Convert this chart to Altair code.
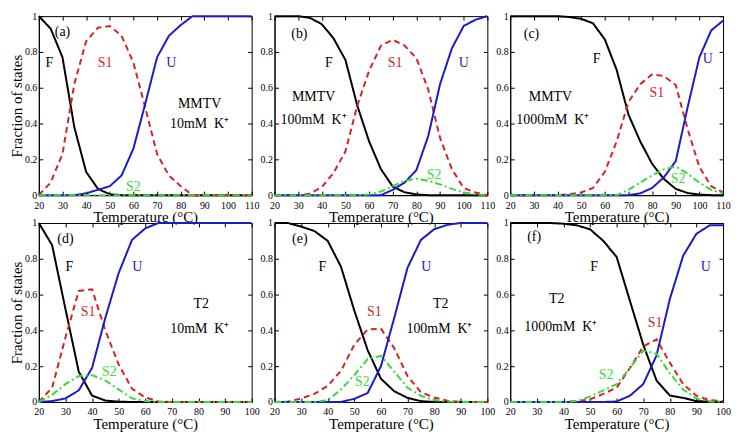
## Import libraries
import pandas as pd
import altair as alt

## Temperature grids (deg C), one point every 5 degrees
temp_top = [20, 25, 30, 35, 40, 45, 50, 55, 60, 65, 70, 75, 80, 85, 90, 95, 100, 105, 110]
temp_bot = [20, 25, 30, 35, 40, 45, 50, 55, 60, 65, 70, 75, 80, 85, 90, 95, 100]

## Fractions of states
# (a) MMTV, 10mM K+
a_F = [1.00, 0.93, 0.77, 0.38, 0.13, 0.035, 0.005, 0, 0, 0, 0, 0, 0, 0, 0, 0, 0, 0, 0]
a_S1 = [0.00, 0.07, 0.23, 0.62, 0.86, 0.935, 0.945, 0.89, 0.74, 0.49, 0.23, 0.11, 0.05, 0.0, 0, 0, 0, 0, 0]
a_U = [0, 0, 0, 0, 0.01, 0.03, 0.05, 0.11, 0.26, 0.51, 0.77, 0.89, 0.95, 1.0, 1.0, 1.0, 1.0, 1.0, 1.0]
a_S2 = [0, 0, 0, 0, 0, 0, 0, 0, 0, 0, 0, 0, 0, 0, 0, 0, 0, 0, 0]

# (b) MMTV, 100mM K+
b_F = [1.00, 1.00, 1.00, 0.99, 0.955, 0.875, 0.755, 0.50, 0.30, 0.145, 0.048, 0.016, 0.004, 0, 0, 0, 0, 0, 0]
b_S1 = [0, 0, 0, 0.008, 0.045, 0.125, 0.245, 0.50, 0.695, 0.835, 0.868, 0.835, 0.765, 0.59, 0.32, 0.145, 0.04, 0.015, 0.0]
b_U = [0, 0, 0, 0, 0, 0, 0, 0, 0, 0, 0.03, 0.07, 0.14, 0.33, 0.62, 0.82, 0.945, 0.98, 1.0]
b_S2 = [0, 0, 0, 0, 0, 0, 0, 0, 0.005, 0.02, 0.05, 0.08, 0.092, 0.08, 0.06, 0.035, 0.015, 0.005, 0.0]

# (c) MMTV, 1000mM K+
c_F = [1.0, 1.0, 1.0, 1.0, 1.0, 0.995, 0.985, 0.96, 0.87, 0.70, 0.45, 0.30, 0.175, 0.09, 0.035, 0.012, 0.003, 0, 0]
c_S1 = [0, 0, 0, 0, 0, 0.005, 0.015, 0.04, 0.13, 0.30, 0.52, 0.62, 0.675, 0.665, 0.615, 0.37, 0.157, 0.05, 0.015]
c_U = [0, 0, 0, 0, 0, 0, 0, 0, 0, 0, 0, 0.01, 0.04, 0.10, 0.19, 0.49, 0.77, 0.92, 0.975]
c_S2 = [0, 0, 0, 0, 0, 0, 0, 0, 0, 0, 0.03, 0.07, 0.11, 0.145, 0.16, 0.12, 0.07, 0.03, 0.01]

# (d) T2, 10mM K+
d_F = [1.0, 0.876, 0.52, 0.17, 0.036, 0.008, 0.002, 0, 0, 0, 0, 0, 0, 0, 0, 0, 0]
d_S1 = [0.0, 0.08, 0.36, 0.62, 0.63, 0.40, 0.21, 0.075, 0.025, 0.003, 0, 0, 0, 0, 0, 0, 0]
d_U = [0.0, 0.005, 0.02, 0.065, 0.19, 0.47, 0.72, 0.905, 0.97, 1.0, 1.0, 1.0, 1.0, 1.0, 1.0, 1.0, 1.0]
d_S2 = [0.0, 0.04, 0.10, 0.145, 0.15, 0.12, 0.07, 0.02, 0.005, 0, 0, 0, 0, 0, 0, 0, 0]

# (e) T2, 100mM K+
e_F = [1.0, 1.0, 0.98, 0.955, 0.90, 0.755, 0.51, 0.29, 0.13, 0.06, 0.023, 0.005, 0, 0, 0, 0, 0]
e_S1 = [0, 0.002, 0.02, 0.045, 0.09, 0.175, 0.32, 0.405, 0.41, 0.30, 0.145, 0.055, 0.025, 0.007, 0, 0, 0]
e_U = [0, 0, 0, 0, 0, 0, 0.018, 0.05, 0.20, 0.47, 0.75, 0.905, 0.965, 0.99, 1.0, 1.0, 1.0]
e_S2 = [0, 0, 0, 0, 0.01, 0.07, 0.15, 0.24, 0.258, 0.17, 0.08, 0.035, 0.01, 0.003, 0, 0, 0]

# (f) T2, 1000mM K+
f_F = [1.0, 1.0, 1.0, 1.0, 0.996, 0.987, 0.965, 0.90, 0.81, 0.565, 0.32, 0.12, 0.036, 0.023, 0.005, 0.002, 0.0]
f_S1 = [0, 0, 0, 0, 0, 0.005, 0.015, 0.045, 0.08, 0.19, 0.31, 0.35, 0.22, 0.10, 0.035, 0.01, 0.005]
f_U = [0, 0, 0, 0, 0, 0, 0, 0, 0.003, 0.035, 0.10, 0.26, 0.575, 0.817, 0.94, 0.987, 0.987]
f_S2 = [0, 0, 0, 0, 0, 0.005, 0.03, 0.065, 0.10, 0.19, 0.287, 0.27, 0.16, 0.07, 0.02, 0.003, 0]

## Panel texts: (text, temperature, fraction, state whose colour it takes)
notes_a = [("(a)", 30, 0.91, "F"), ("F", 24.5, 0.74, "F"), ("S1", 48, 0.74, "S1"), ("U", 76, 0.74, "U"),
           ("MMTV", 88, 0.51, "F"), ("10mM\u00a0 K\u207a", 88, 0.40, "F"), ("S2", 60, 0.045, "S2")]
notes_b = [("(b)", 30.5, 0.9, "F"), ("F", 43, 0.74, "F"), ("S1", 71, 0.74, "S1"), ("U", 100, 0.74, "U"),
           ("MMTV", 36.5, 0.55, "F"), ("100mM\u00a0 K\u207a", 36.5, 0.42, "F"), ("S2", 87.5, 0.115, "S2")]
notes_c = [("(c)", 29, 0.9, "F"), ("F", 56.5, 0.76, "F"), ("S1", 82, 0.57, "S1"), ("U", 103.5, 0.76, "U"),
           ("MMTV", 37, 0.55, "F"), ("1000mM\u00a0 K\u207a", 38, 0.42, "F"), ("S2", 91, 0.09, "S2")]
notes_d = [("(d)", 30, 0.91, "F"), ("F", 31.5, 0.755, "F"), ("S1", 38.5, 0.5, "S1"), ("U", 57, 0.755, "U"),
           ("T2", 81, 0.55, "F"), ("10mM\u00a0 K\u207a", 80.5, 0.41, "F"), ("S2", 46.5, 0.17, "S2")]
notes_e = [("(e)", 29.5, 0.91, "F"), ("F", 38, 0.755, "F"), ("S1", 57.5, 0.5, "S1"), ("U", 77, 0.755, "U"),
           ("T2", 82.5, 0.55, "F"), ("100mM\u00a0 K\u207a", 82, 0.41, "F"), ("S2", 53, 0.11, "S2")]
notes_f = [("(f)", 29, 0.92, "F"), ("F", 51.5, 0.755, "F"), ("S1", 74.5, 0.44, "S1"), ("U", 93.5, 0.755, "U"),
           ("T2", 37.5, 0.575, "F"), ("1000mM\u00a0 K\u207a", 39, 0.42, "F"), ("S2", 56, 0.15, "S2")]

## Axis ticks
x_ticks_top = [20, 30, 40, 50, 60, 70, 80, 90, 100, 110]
x_ticks_bot = [20, 30, 40, 50, 60, 70, 80, 90, 100]
y_ticks = [0, 0.2, 0.4, 0.6, 0.8, 1]

## Styling
states = ["F", "S1", "U", "S2"]
state_colors = ["#000000", "#d42424", "#1c1cc4", "#3ad83a"]
state_dash = [[1, 0], [6, 4], [1, 0], [7, 3, 2, 3]]
serif = "Liberation Serif"
W, H = 214, 180  # plot area of one panel


def axis(ticks, title, grid_len, pad, fmt=None):
    # grid lines dashed so only a short piece shows at each edge -> inward ticks on all four sides
    opts = dict(values=ticks, title=title, gridDash=[4, grid_len - 8, 4, 2000], labelPadding=pad,
                labelFont=serif, labelFontSize=10, titleFont=serif, titleFontSize=15)
    if fmt:
        opts["format"] = fmt
    return alt.Axis(**opts)


def panel(temps, F, S1, U, S2, notes, x_ticks, y_title):
    curves = pd.DataFrame({
        "T": temps * 4,
        "frac": F + S1 + U + S2,
        "state": [s for s in states for _ in temps],
    })
    labels = pd.DataFrame(notes, columns=["text", "T", "frac", "state"])

    x = alt.X("T:Q", scale=alt.Scale(domain=[x_ticks[0], x_ticks[-1]], nice=False, zero=False),
              axis=axis(x_ticks, "Temperature (\u00b0C)", H, 5))
    y = alt.Y("frac:Q", scale=alt.Scale(domain=[0, 1], nice=False),
              axis=axis(y_ticks, y_title, W, 2, "~g"))
    color = alt.Color("state:N", scale=alt.Scale(domain=states, range=state_colors), legend=None)

    lines = alt.Chart(curves).mark_line(strokeWidth=2).encode(
        x=x, y=y, color=color,
        strokeDash=alt.StrokeDash("state:N", scale=alt.Scale(domain=states, range=state_dash), legend=None),
    )
    text = alt.Chart(labels).mark_text(font=serif, fontSize=14).encode(
        x=x, y=y, color=color, text="text:N"
    )
    return alt.layer(lines, text).properties(width=W, height=H)


pa = panel(temp_top, a_F, a_S1, a_U, a_S2, notes_a, x_ticks_top, "Fraction of states")
pb = panel(temp_top, b_F, b_S1, b_U, b_S2, notes_b, x_ticks_top, None)
pc = panel(temp_top, c_F, c_S1, c_U, c_S2, notes_c, x_ticks_top, None)
pd_ = panel(temp_bot, d_F, d_S1, d_U, d_S2, notes_d, x_ticks_bot, "Fraction of states")
pe = panel(temp_bot, e_F, e_S1, e_U, e_S2, notes_e, x_ticks_bot, None)
pf = panel(temp_bot, f_F, f_S1, f_U, f_S2, notes_f, x_ticks_bot, None)

chart = alt.concat(
    pa, pb, pc, pd_, pe, pf, columns=3,
    spacing=alt.RowColnumber(row=28, column=23), bounds="flush"
).properties(
    padding=1, background="white"
).configure_view(
    stroke="black", strokeWidth=1
).configure_axis(
    grid=True, gridColor="black", gridWidth=1, gridOpacity=1,
    ticks=False, domain=True, domainColor="black",
    labelColor="black",
    labelFlush=False, labelOverlap=False, labelBound=False,
    titleFontWeight="normal", titleColor="black", titlePadding=0,
)

chart.save("out.html", embed_options={"renderer": "svg", "actions": False})
